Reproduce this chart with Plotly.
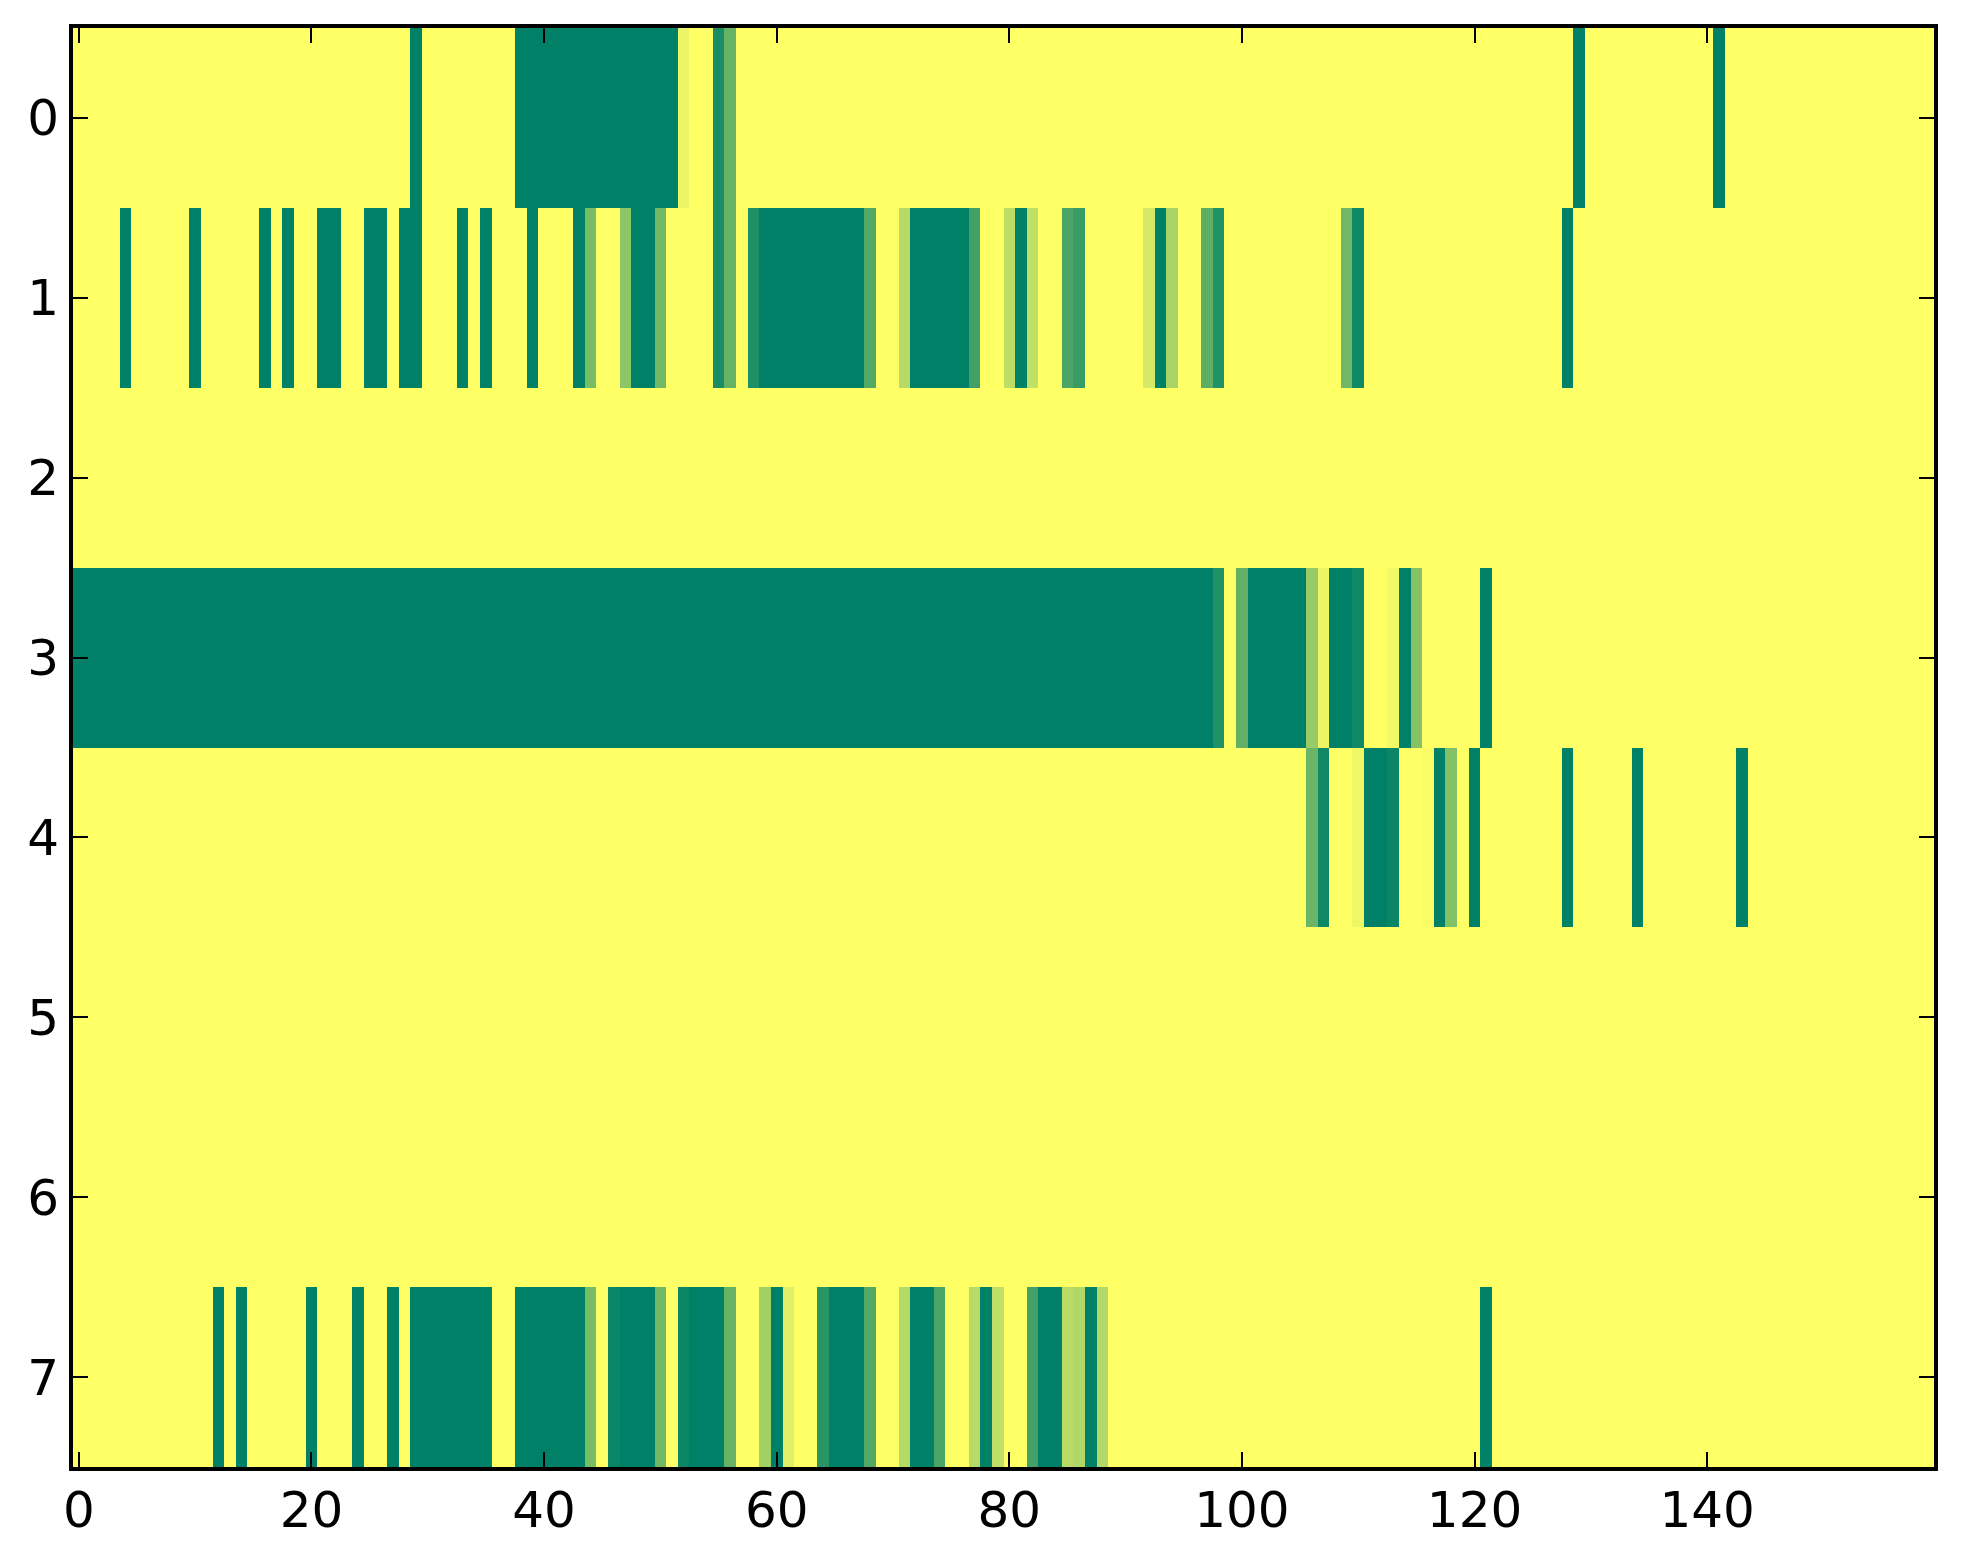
import plotly.graph_objects as go

# one list per heatmap row (values 0..1, summer colormap), 160 columns each
row0 = [1, 1, 1, 1, 1, 1, 1, 1, 1, 1, 1, 1, 1, 1, 1, 1, 1, 1, 1, 1,
        1, 1, 1, 1, 1, 1, 1, 1, 1, 0, 1, 1, 1, 1, 1, 1, 1, 1, 0, 0,
        0, 0, 0, 0, 0, 0, 0, 0, 0, 0, 0, 0, .92, 1, 1, .1, .4, 1, 1, 1,
        1, 1, 1, 1, 1, 1, 1, 1, 1, 1, 1, 1, 1, 1, 1, 1, 1, 1, 1, 1,
        1, 1, 1, 1, 1, 1, 1, 1, 1, 1, 1, 1, 1, 1, 1, 1, 1, 1, 1, 1,
        1, 1, 1, 1, 1, 1, 1, 1, 1, 1, 1, 1, 1, 1, 1, 1, 1, 1, 1, 1,
        1, 1, 1, 1, 1, 1, 1, 1, 1, 0, 1, 1, 1, 1, 1, 1, 1, 1, 1, 1,
        1, 0, 1, 1, 1, 1, 1, 1, 1, 1, 1, 1, 1, 1, 1, 1, 1, 1, 1, 1]

row1 = [1, 1, 1, 1, 0, 1, 1, 1, 1, 1, 0, 1, 1, 1, 1, 1, 0, 1, 0, 1,
        1, 0, 0, 1, 1, 0, 0, 1, 0, 0, 1, 1, 1, 0, 1, 0, 1, 1, 1, 0,
        1, 1, 1, 0, .47, 1, 1, .55, 0, 0, .44, 1, 1, 1, 1, .1, .4, 1, .12, 0,
        0, 0, 0, 0, 0, 0, 0, 0, .32, 1, 1, .71, 0, 0, 0, 0, 0, .25, 1, 1,
        .74, 0, .75, 1, 1, .29, .22, 1, 1, 1, 1, 1, .83, 0, .66, 1, 1, .37, .13, 1,
        1, 1, 1, 1, 1, 1, 1, 1, 1, .44, .06, 1, 1, 1, 1, 1, 1, 1, 1, 1,
        1, 1, 1, 1, 1, 1, 1, 1, 0, 1, 1, 1, 1, 1, 1, 1, 1, 1, 1, 1,
        1, 1, 1, 1, 1, 1, 1, 1, 1, 1, 1, 1, 1, 1, 1, 1, 1, 1, 1, 1]

row2 = [1, 1, 1, 1, 1, 1, 1, 1, 1, 1, 1, 1, 1, 1, 1, 1, 1, 1, 1, 1,
        1, 1, 1, 1, 1, 1, 1, 1, 1, 1, 1, 1, 1, 1, 1, 1, 1, 1, 1, 1,
        1, 1, 1, 1, 1, 1, 1, 1, 1, 1, 1, 1, 1, 1, 1, 1, 1, 1, 1, 1,
        1, 1, 1, 1, 1, 1, 1, 1, 1, 1, 1, 1, 1, 1, 1, 1, 1, 1, 1, 1,
        1, 1, 1, 1, 1, 1, 1, 1, 1, 1, 1, 1, 1, 1, 1, 1, 1, 1, 1, 1,
        1, 1, 1, 1, 1, 1, 1, 1, 1, 1, 1, 1, 1, 1, 1, 1, 1, 1, 1, 1,
        1, 1, 1, 1, 1, 1, 1, 1, 1, 1, 1, 1, 1, 1, 1, 1, 1, 1, 1, 1,
        1, 1, 1, 1, 1, 1, 1, 1, 1, 1, 1, 1, 1, 1, 1, 1, 1, 1, 1, 1]

row3 = [0, 0, 0, 0, 0, 0, 0, 0, 0, 0, 0, 0, 0, 0, 0, 0, 0, 0, 0, 0,
        0, 0, 0, 0, 0, 0, 0, 0, 0, 0, 0, 0, 0, 0, 0, 0, 0, 0, 0, 0,
        0, 0, 0, 0, 0, 0, 0, 0, 0, 0, 0, 0, 0, 0, 0, 0, 0, 0, 0, 0,
        0, 0, 0, 0, 0, 0, 0, 0, 0, 0, 0, 0, 0, 0, 0, 0, 0, 0, 0, 0,
        0, 0, 0, 0, 0, 0, 0, 0, 0, 0, 0, 0, 0, 0, 0, 0, 0, 0, .13, 1,
        .38, 0, 0, 0, 0, 0, .59, .92, 0, 0, .06, 1, 1, .95, 0, .52, 1, 1, 1, 1,
        1, 0, 1, 1, 1, 1, 1, 1, 1, 1, 1, 1, 1, 1, 1, 1, 1, 1, 1, 1,
        1, 1, 1, 1, 1, 1, 1, 1, 1, 1, 1, 1, 1, 1, 1, 1, 1, 1, 1, 1]

row4 = [1, 1, 1, 1, 1, 1, 1, 1, 1, 1, 1, 1, 1, 1, 1, 1, 1, 1, 1, 1,
        1, 1, 1, 1, 1, 1, 1, 1, 1, 1, 1, 1, 1, 1, 1, 1, 1, 1, 1, 1,
        1, 1, 1, 1, 1, 1, 1, 1, 1, 1, 1, 1, 1, 1, 1, 1, 1, 1, 1, 1,
        1, 1, 1, 1, 1, 1, 1, 1, 1, 1, 1, 1, 1, 1, 1, 1, 1, 1, 1, 1,
        1, 1, 1, 1, 1, 1, 1, 1, 1, 1, 1, 1, 1, 1, 1, 1, 1, 1, 1, 1,
        1, 1, 1, 1, 1, 1, .42, .06, 1, 1, .94, 0, 0, .04, 1, 1, .98, 0, .51, 1,
        0, 1, 1, 1, 1, 1, 1, 1, 0, 1, 1, 1, 1, 1, 0, 1, 1, 1, 1, 1,
        1, 1, 1, 0, 1, 1, 1, 1, 1, 1, 1, 1, 1, 1, 1, 1, 1, 1, 1, 1]

row5 = [1, 1, 1, 1, 1, 1, 1, 1, 1, 1, 1, 1, 1, 1, 1, 1, 1, 1, 1, 1,
        1, 1, 1, 1, 1, 1, 1, 1, 1, 1, 1, 1, 1, 1, 1, 1, 1, 1, 1, 1,
        1, 1, 1, 1, 1, 1, 1, 1, 1, 1, 1, 1, 1, 1, 1, 1, 1, 1, 1, 1,
        1, 1, 1, 1, 1, 1, 1, 1, 1, 1, 1, 1, 1, 1, 1, 1, 1, 1, 1, 1,
        1, 1, 1, 1, 1, 1, 1, 1, 1, 1, 1, 1, 1, 1, 1, 1, 1, 1, 1, 1,
        1, 1, 1, 1, 1, 1, 1, 1, 1, 1, 1, 1, 1, 1, 1, 1, 1, 1, 1, 1,
        1, 1, 1, 1, 1, 1, 1, 1, 1, 1, 1, 1, 1, 1, 1, 1, 1, 1, 1, 1,
        1, 1, 1, 1, 1, 1, 1, 1, 1, 1, 1, 1, 1, 1, 1, 1, 1, 1, 1, 1]

row6 = [1, 1, 1, 1, 1, 1, 1, 1, 1, 1, 1, 1, 1, 1, 1, 1, 1, 1, 1, 1,
        1, 1, 1, 1, 1, 1, 1, 1, 1, 1, 1, 1, 1, 1, 1, 1, 1, 1, 1, 1,
        1, 1, 1, 1, 1, 1, 1, 1, 1, 1, 1, 1, 1, 1, 1, 1, 1, 1, 1, 1,
        1, 1, 1, 1, 1, 1, 1, 1, 1, 1, 1, 1, 1, 1, 1, 1, 1, 1, 1, 1,
        1, 1, 1, 1, 1, 1, 1, 1, 1, 1, 1, 1, 1, 1, 1, 1, 1, 1, 1, 1,
        1, 1, 1, 1, 1, 1, 1, 1, 1, 1, 1, 1, 1, 1, 1, 1, 1, 1, 1, 1,
        1, 1, 1, 1, 1, 1, 1, 1, 1, 1, 1, 1, 1, 1, 1, 1, 1, 1, 1, 1,
        1, 1, 1, 1, 1, 1, 1, 1, 1, 1, 1, 1, 1, 1, 1, 1, 1, 1, 1, 1]

row7 = [1, 1, 1, 1, 1, 1, 1, 1, 1, 1, 1, 1, 0, 1, 0, 1, 1, 1, 1, 1,
        0, 1, 1, 1, 0, 1, 1, 0, 1, 0, 0, 0, 0, 0, 0, 0, 1, 1, 0, 0,
        0, 0, 0, 0, .47, 1, .04, 0, 0, 0, .44, 1, .05, 0, 0, 0, .4, 1, 1, .63,
        0, .88, 1, 1, .16, 0, 0, 0, .32, 1, 1, .7, 0, 0, .29, 1, 1, .72, 0, .75,
        1, 1, .26, 0, 0, .72, .69, 0, .7, 1, 1, 1, 1, 1, 1, 1, 1, 1, 1, 1,
        1, 1, 1, 1, 1, 1, 1, 1, 1, 1, 1, 1, 1, 1, 1, 1, 1, 1, 1, 1,
        1, 0, 1, 1, 1, 1, 1, 1, 1, 1, 1, 1, 1, 1, 1, 1, 1, 1, 1, 1,
        1, 1, 1, 1, 1, 1, 1, 1, 1, 1, 1, 1, 1, 1, 1, 1, 1, 1, 1, 1]

rows = [row0, row1, row2, row3, row4, row5, row6, row7]
columns = list(range(len(row0)))
row_ids = list(range(len(rows)))

x_ticks = [0, 20, 40, 60, 80, 100, 120, 140]
y_ticks = [0, 1, 2, 3, 4, 5, 6, 7]

# matplotlib "summer": green -> yellow
summer = [[0, "rgb(0,128,102)"], [1, "rgb(255,255,102)"]]

fig = go.Figure(
    go.Heatmap(
        z=rows,
        x=columns,
        y=row_ids,
        colorscale=summer,
        zmin=0,
        zmax=1,
        showscale=False,
    )
)

axis_style = dict(
    showline=True,
    linecolor="black",
    linewidth=4,
    mirror="ticks",
    ticks="inside",
    ticklen=15,
    tickwidth=2,
    tickcolor="black",
    showgrid=False,
    zeroline=False,
    tickfont=dict(family="DejaVu Sans", size=50, color="black"),
)

fig.update_xaxes(range=[-0.5, 159.5], tickvals=x_ticks, ticklabelstandoff=-4, **axis_style)
fig.update_yaxes(range=[7.5, -0.5], tickvals=y_ticks, ticklabelstandoff=0, **axis_style)

# page body adds 8px, so the figure is a bit smaller than the window
fig.update_layout(
    width=1955,
    height=1556,
    margin=dict(l=65, r=29, t=20, b=97),
    plot_bgcolor="white",
    paper_bgcolor="white",
)

fig.write_html("out.html")
